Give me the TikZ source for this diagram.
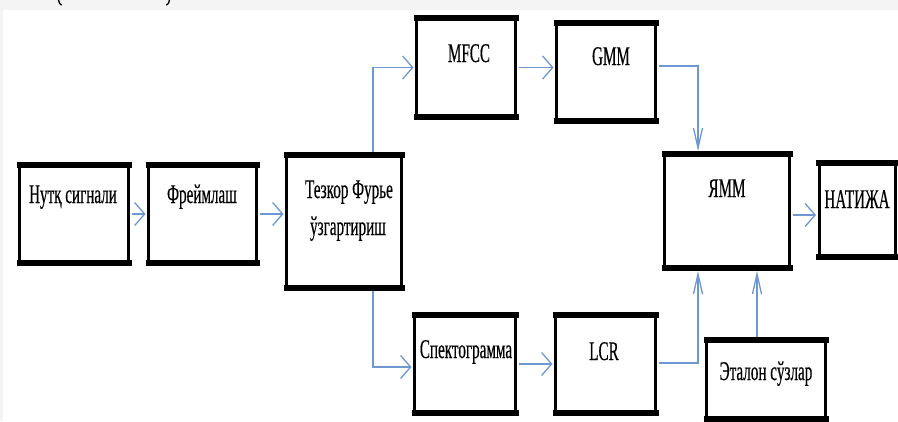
\documentclass[tikz,border=0pt]{standalone}
\usepackage{fontspec}
\setmainfont{Liberation Serif}[FakeStretch=0.56,FakeBold=0.4]
\usetikzlibrary{arrows.meta}
\definecolor{arrblue}{RGB}{110,152,210}
\definecolor{bandgray}{RGB}{244,244,244}
\tikzset{
  box/.style={draw=black, line width=3pt, rectangle, inner sep=0pt},
  lbl/.style={anchor=base, inner sep=0pt, font=\fontsize{27}{37}\selectfont},
  conn/.style={draw=arrblue, line width=1.3pt},
  harr/.style={conn, -{Straight Barb[length=10pt,width=23pt,line width=1.3pt]}},
  varr/.style={conn, -{Straight Barb[length=20pt,width=9pt,line width=1.3pt]}},
}
\begin{document}
\begin{tikzpicture}[x=1pt,y=-1pt]
\useasboundingbox (0,0) rectangle (898,421);
\fill[bandgray] (0,0) rectangle (898,421);
\fill[white] (3,10) rectangle (898,421);
% cut-off bracket tips at the top edge
\draw[line width=1.3pt, line cap=round] (58.5,0) .. controls (59,3) and (60,4.5) .. (61.5,5);
\draw[line width=1.3pt, line cap=round] (169.5,0) .. controls (169,3) and (168,4.5) .. (166.5,5);

% boxes
\node[box, minimum width=109pt, minimum height=95pt] (n1) at (74,214) {};
\node[box, minimum width=108pt, minimum height=95pt] (n2) at (202.5,214) {};
\node[box, minimum width=115pt, minimum height=130pt] (n3) at (344,221.5) {};
\node[box, minimum width=99pt, minimum height=96pt] (mfcc) at (466,67.5) {};
\node[box, minimum width=99pt, minimum height=95pt] (gmm) at (606,72) {};
\node[box, minimum width=125pt, minimum height=111pt] (yamm) at (727,211) {};
\node[box, minimum width=76pt, minimum height=91pt] (nat) at (857,210) {};
\node[box, minimum width=101pt, minimum height=95pt] (spek) at (465,364) {};
\node[box, minimum width=100pt, minimum height=95pt] (lcr) at (605.5,364) {};
\node[box, minimum width=119pt, minimum height=76pt] (etal) at (766,379) {};

\foreach \b in {n1,n2,n3,mfcc,gmm,yamm,nat,spek,lcr,etal}{
  \draw[line width=6pt] ([xshift=-1.5pt]\b.north west) -- ([xshift=1.5pt]\b.north east);
  \draw[line width=6pt] ([xshift=-1.5pt]\b.south west) -- ([xshift=1.5pt]\b.south east);
}

% labels
\node[lbl] (t1) at (73,203) {Нутқ сигнали};
\node[lbl] (t2) at (202,203) {Фреймлаш};
\node[lbl] (t3a) at (349,198) {Тезкор Фурье};
\node[lbl] (t3b) at (348,235) {ўзгартириш};
\node[lbl] (t4) at (469,62) {MFCC};
\node[lbl] (t5) at (611,65) {GMM};
\node[lbl] (t6) at (727,197) {ЯММ};
\node[lbl] (t7) at (857,208) {НАТИЖА};
\node[lbl] (t8) at (466,358) {Спектограмма};
\node[lbl] (t9) at (604,360) {LCR};
\node[lbl] (t10) at (766,380) {Эталон сўзлар};

% helper coordinates
\coordinate (cx1) at (373,67);
\coordinate (cy1) at (0,367);
\coordinate (cx2) at (698,66);
\coordinate (cy2) at (0,363);
\coordinate (cx3) at (757,0);
\coordinate (cy3) at (0,215);

% connectors
\draw[harr, shorten <=1.5pt, shorten >=1.5pt] (n1.east) -- (n2.west);
\draw[harr, shorten <=1.5pt, shorten >=1.5pt] (n2.east) -- (n3.west |- n2.east);
\draw[harr, shorten <=3pt, shorten >=1.5pt] (n3.north -| cx1) |- (mfcc.west);
\draw[harr, shorten <=3pt, shorten >=1.5pt] (n3.south -| cx1) |- (spek.west |- cy1);
\draw[harr, shorten <=1.5pt, shorten >=1.5pt] (mfcc.east) -- (gmm.west |- mfcc.east);
\draw[varr, shorten <=1.5pt, shorten >=3pt] (gmm.east |- cx2) -| (yamm.north -| cx2);
\draw[harr, shorten <=1.5pt, shorten >=1.5pt] (spek.east) -- (lcr.west);
\draw[varr, shorten <=1.5pt, shorten >=3pt] (lcr.east |- cy2) -| (yamm.south -| cx2);
\draw[varr, shorten <=3pt, shorten >=3pt] (etal.north -| cx3) -- (yamm.south -| cx3);
\draw[harr, shorten <=1.5pt, shorten >=1.5pt] (yamm.east |- cy3) -- (nat.west |- cy3);
\end{tikzpicture}
\end{document}
